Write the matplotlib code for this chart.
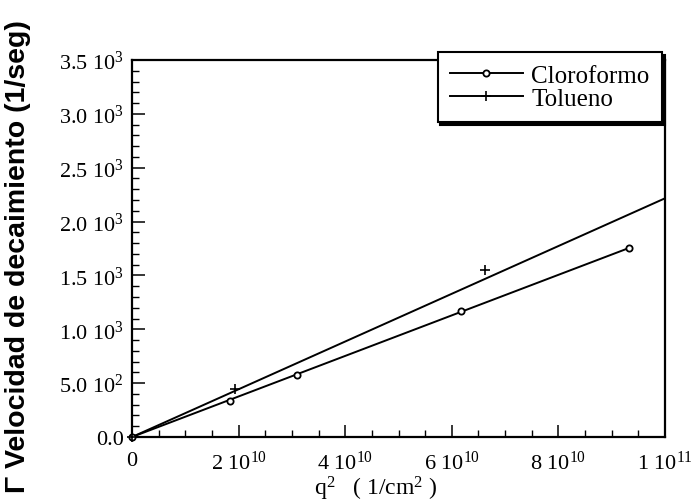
import matplotlib
matplotlib.use("Agg")
import matplotlib.pyplot as plt
from matplotlib.ticker import FixedLocator, MultipleLocator

# Measured decay rates vs. q^2
cloro_q2 = [0.0, 1.84e10, 3.10e10, 6.17e10, 9.32e10]
cloro_gamma = [0.0, 337.0, 573.0, 1173.0, 1752.0]
tol_q2 = [0.0, 1.93e10, 6.62e10]
tol_gamma = [0.0, 446.0, 1553.0]

# Linear fits through the origin
cloro_fit_q2 = [0.0, 9.32e10]
cloro_fit_gamma = [0.0, 1754.0]
tol_fit_q2 = [0.0, 1.0e11]
tol_fit_gamma = [0.0, 2216.0]

xtick_values = [0, 2e10, 4e10, 6e10, 8e10, 1e11]
xtick_labels = ["0", r"2 10$^{10}$", r"4 10$^{10}$", r"6 10$^{10}$",
                r"8 10$^{10}$", r"1 10$^{11}$"]
ytick_values = [0, 500, 1000, 1500, 2000, 2500, 3000, 3500]
ytick_labels = ["0.0", r"5.0 10$^{2}$", r"1.0 10$^{3}$", r"1.5 10$^{3}$",
                r"2.0 10$^{3}$", r"2.5 10$^{3}$", r"3.0 10$^{3}$", r"3.5 10$^{3}$"]

plt.rcParams["font.family"] = ["Liberation Serif", "DejaVu Serif"]
plt.rcParams["mathtext.fontset"] = "custom"
plt.rcParams["mathtext.rm"] = "Liberation Serif"
plt.rcParams["mathtext.it"] = "Liberation Serif"

fig = plt.figure(figsize=(6.97, 5.02), dpi=100)
W, H = 697, 502
ax = fig.add_axes([132 / W, 1 - 438 / H, 533 / W, 377 / H])

lw = 1.4
ax.plot(cloro_fit_q2, cloro_fit_gamma, color="black", lw=lw, zorder=3)
ax.plot(tol_fit_q2, tol_fit_gamma, color="black", lw=lw, zorder=3)
ax.plot(cloro_q2, cloro_gamma, linestyle="none", marker="o", ms=4.5,
        mfc="white", mec="black", mew=1.3, clip_on=False, zorder=4)
ax.plot(tol_q2, tol_gamma, linestyle="none", marker="+", ms=7,
        mec="black", mew=1.2, clip_on=False, zorder=4)

# Legend proxies: line with a single marker in the middle
h1, = ax.plot([], [], color="black", lw=lw, marker="o", ms=4.5,
              mfc="white", mec="black", mew=1.3)
h2, = ax.plot([], [], color="black", lw=lw, marker="+", ms=7, mew=1.2)

ax.set_xlim(0, 1e11)
ax.set_ylim(0, 3500)

ax.xaxis.set_major_locator(FixedLocator(xtick_values))
ax.set_xticklabels(xtick_labels)
ax.xaxis.set_minor_locator(MultipleLocator(5e9))
ax.yaxis.set_major_locator(FixedLocator(ytick_values))
ax.set_yticklabels(ytick_labels)
ax.yaxis.set_minor_locator(MultipleLocator(100))

ax.tick_params(which="both", direction="in", top=False, right=False,
               color="black", labelsize=16)
ax.tick_params(which="major", length=9, width=1.1)
ax.tick_params(which="minor", length=5, width=1.0)
ax.tick_params(axis="y", which="major", pad=6)
ax.tick_params(axis="x", which="major", pad=10)

for sp in ax.spines.values():
    sp.set_linewidth(1.6)
    sp.set_color("black")

leg = ax.legend([h1, h2], ["Cloroformo", "Tolueno"], numpoints=1,
                loc="upper right", bbox_to_anchor=(662 / W, 1 - 53 / H),
                bbox_transform=fig.transFigure, borderaxespad=0,
                fontsize=18, handlelength=2.9, handletextpad=0.35,
                labelspacing=0.0, borderpad=0.5, fancybox=False,
                framealpha=1, edgecolor="black",
                shadow={"color": "black", "alpha": 1.0})
leg.get_frame().set_linewidth(1.5)

fig.text(376 / W, 1 - 489 / H, r"q$^{2}$   ( 1/cm$^{2}$ )", fontsize=17,
         ha="center", va="center")
fig.text(18 / W, 1 - 257 / H, "\u0393 Velocidad de decaimiento (1/seg)",
         rotation=90, ha="center", va="center", fontsize=20.5,
         fontweight="bold",
         family=["Liberation Sans Narrow", "Liberation Sans", "DejaVu Sans"])

fig.savefig("out.png", dpi=100)
